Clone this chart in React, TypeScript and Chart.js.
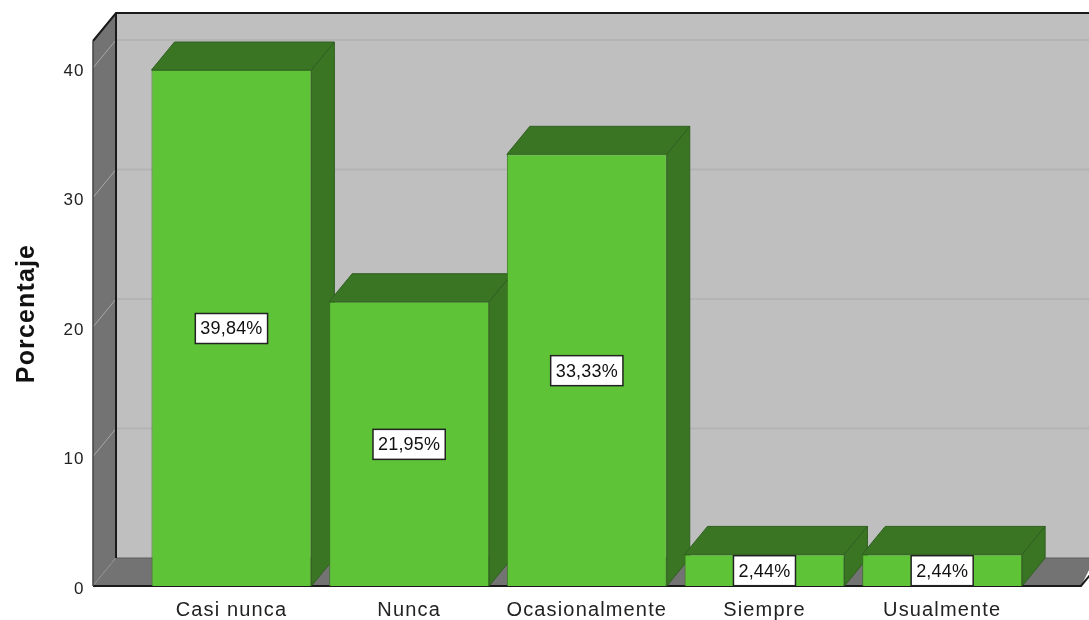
import React, { useEffect, useRef } from "react";
import { Chart, registerables } from "chart.js";

Chart.register(...registerables);

const categories = ["Casi nunca", "Nunca", "Ocasionalmente", "Siempre", "Usualmente"];
const values = [39.84, 21.95, 33.33, 2.44, 2.44];
const valueLabels = ["39,84%", "21,95%", "33,33%", "2,44%", "2,44%"];
const yTicks = [0, 10, 20, 30, 40];

const DX = 23;
const DY = 28;
const WALL_LEFT = 93;
const WALL_RIGHT = 1081;
const FONT = '"Liberation Sans", Arial, sans-serif';

function quad(ctx: CanvasRenderingContext2D, pts: number[][], fill: string, stroke?: string, lw = 1) {
  ctx.beginPath();
  pts.forEach((p, i) => (i ? ctx.lineTo(p[0], p[1]) : ctx.moveTo(p[0], p[1])));
  ctx.closePath();
  ctx.fillStyle = fill;
  ctx.fill();
  if (stroke) {
    ctx.strokeStyle = stroke;
    ctx.lineWidth = lw;
    ctx.stroke();
  }
}

const box3d = {
  id: "box3d",
  beforeDraw(chart: any) {
    chart.ctx.letterSpacing = "1.15px";
  },
  beforeDatasetsDraw(chart: any) {
    const { ctx, scales } = chart;
    const y = scales.y;
    const top = y.top;
    const bottom = y.bottom;
    ctx.save();
    // back wall
    quad(ctx, [[WALL_LEFT + DX, top - DY], [1095, top - DY], [1095, bottom - DY], [WALL_LEFT + DX, bottom - DY]], "#bfbfbf");
    yTicks.forEach((t) => {
      const py = y.getPixelForValue(t);
      ctx.strokeStyle = "#b4b4b4";
      ctx.lineWidth = 2;
      ctx.beginPath();
      if (t > 0) {
        ctx.moveTo(WALL_LEFT + DX, py - DY);
        ctx.lineTo(1095, py - DY);
        ctx.stroke();
      }
    });
    // left side wall
    quad(ctx, [[WALL_LEFT, top], [WALL_LEFT + DX, top - DY], [WALL_LEFT + DX, bottom - DY], [WALL_LEFT, bottom]], "#737373");
    yTicks.forEach((t) => {
      const py = y.getPixelForValue(t);
      ctx.strokeStyle = "#a8a8a8";
      ctx.lineWidth = 1;
      ctx.beginPath();
      ctx.moveTo(WALL_LEFT, py);
      ctx.lineTo(WALL_LEFT + DX, py - DY);
      ctx.stroke();
    });
    // floor
    quad(ctx, [[WALL_LEFT, bottom], [WALL_LEFT + DX, bottom - DY], [1095, bottom - DY], [WALL_RIGHT, bottom]], "#737373");
    ctx.strokeStyle = "#5c5c5c";
    ctx.lineWidth = 1;
    ctx.beginPath();
    ctx.moveTo(WALL_LEFT + DX, bottom - DY);
    ctx.lineTo(1095, bottom - DY);
    ctx.stroke();
    // frame
    ctx.strokeStyle = "#1a1a1a";
    ctx.lineWidth = 2;
    ctx.beginPath();
    ctx.moveTo(WALL_LEFT, top);
    ctx.lineTo(WALL_LEFT + DX, top - DY);
    ctx.lineTo(1095, top - DY);
    ctx.moveTo(WALL_LEFT + DX, top - DY);
    ctx.lineTo(WALL_LEFT + DX, bottom - DY);
    ctx.moveTo(WALL_LEFT, bottom);
    ctx.lineTo(WALL_RIGHT, bottom);
    ctx.lineTo(WALL_RIGHT + DX, bottom - DY);
    ctx.stroke();
    ctx.strokeStyle = "#444444";
    ctx.lineWidth = 1.5;
    ctx.beginPath();
    ctx.moveTo(WALL_LEFT, bottom);
    ctx.lineTo(WALL_LEFT, top);
    ctx.stroke();
    // bar top and side faces
    const meta = chart.getDatasetMeta(0);
    meta.data.forEach((bar: any) => {
      const l = bar.x - bar.width / 2;
      const r = bar.x + bar.width / 2;
      const t = bar.y;
      const b = bar.base;
      const dark = "#3a7524";
      const edge = "#2f6020";
      quad(ctx, [[l, t], [l + DX, t - DY], [r + DX, t - DY], [r, t]], dark, edge);
      quad(ctx, [[r, t], [r + DX, t - DY], [r + DX, b - DY], [r, b]], dark, edge);
    });
    ctx.restore();
  },
  afterDatasetsDraw(chart: any) {
    const { ctx } = chart;
    const meta = chart.getDatasetMeta(0);
    ctx.save();
    ctx.font = `18px ${FONT}`;
    ctx.letterSpacing = "0.2px";
    ctx.textAlign = "center";
    ctx.textBaseline = "middle";
    meta.data.forEach((bar: any, i: number) => {
      const cx = bar.x;
      const cy = (bar.y + bar.base) / 2 + 0.5;
      const w = ctx.measureText(valueLabels[i]).width + 10;
      const h = 30;
      ctx.fillStyle = "#ffffff";
      ctx.fillRect(cx - w / 2, cy - h / 2, w, h);
      ctx.strokeStyle = "#222222";
      ctx.lineWidth = 1.5;
      ctx.strokeRect(cx - w / 2, cy - h / 2, w, h);
      ctx.fillStyle = "#111111";
      ctx.fillText(valueLabels[i], cx, cy + 1);
    });
    ctx.restore();
  },
};

export default function App() {
  const ref = useRef<HTMLCanvasElement>(null);
  useEffect(() => {
    const chart = new Chart(ref.current as HTMLCanvasElement, {
      type: "bar",
      data: {
        labels: categories,
        datasets: [
          {
            data: values,
            backgroundColor: "#5ec337",
            borderColor: "#3a7524",
            borderWidth: 1,
            categoryPercentage: 1,
            barPercentage: 0.9,
          },
        ],
      },
      plugins: [box3d],
      options: {
        responsive: false,
        animation: false,
        layout: { padding: { left: 0, top: 41, right: 58, bottom: 0 } },
        plugins: { legend: { display: false }, tooltip: { enabled: false } },
        scales: {
          x: {
            grid: { display: false, drawTicks: false },
            border: { display: false },
            ticks: { color: "#222", font: { family: FONT, size: 20 }, padding: 12, maxRotation: 0, autoSkip: false },
            afterFit: (s: any) => {
              s.height = 34;
              s.paddingLeft = 0;
              s.paddingRight = 0;
            },
          },
          y: {
            min: 0,
            max: 42.08,
            grid: { display: false, drawTicks: false },
            border: { display: false },
            afterBuildTicks: (s: any) => {
              s.ticks = yTicks.map((value) => ({ value }));
            },
            ticks: {
              color: "#222",
              font: { family: FONT, size: 17, lineHeight: "6px" },
              padding: 58,
              callback: (v: any) => ["", String(v)],
            },
            title: {
              display: true,
              text: "Porcentaje",
              color: "#111",
              font: { family: FONT, size: 25, weight: "bold" },
              padding: { top: 12, bottom: 0 },
            },
            afterFit: (s: any) => {
              s.width = 142.6;
              s.paddingTop = 0;
              s.paddingBottom = 0;
            },
          },
        },
      },
    } as any);
    return () => chart.destroy();
  }, []);
  return (
    <canvas ref={ref} width={1089} height={620} style={{ position: "fixed", left: 0, top: 0, display: "block" }} />
  );
}
